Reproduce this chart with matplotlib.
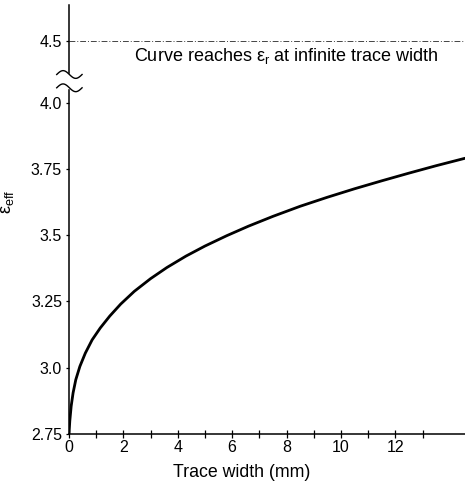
import numpy as np
import matplotlib
matplotlib.use('Agg')
import matplotlib.pyplot as plt

plt.rcParams['font.family'] = ['Liberation Sans', 'DejaVu Sans']
plt.rcParams['mathtext.fontset'] = 'custom'
plt.rcParams['mathtext.rm'] = 'Liberation Sans'
plt.rcParams['mathtext.it'] = 'Liberation Sans'

# curve
trace_width = [0.0, 0.03, 0.08, 0.15, 0.25, 0.4, 0.6, 0.85, 1.15, 1.5, 1.9,
               2.4, 3.0, 3.6, 4.3, 5.0, 5.8, 6.6, 7.5, 8.5, 9.5, 10.5, 11.5,
               12.5, 13.5, 14.56]
e_eff = [2.75, 2.80, 2.855, 2.905, 2.955, 3.005, 3.055, 3.105, 3.15, 3.195,
         3.24, 3.288, 3.336, 3.378, 3.421, 3.459, 3.498, 3.534, 3.571, 3.609,
         3.643, 3.675, 3.705, 3.734, 3.762, 3.79]
e_r = 4.5
y_ticks = [2.75, 3.0, 3.25, 3.5, 3.75, 4.0, 4.5]
y_labels = ['2.75', '3.0', '3.25', '3.5', '3.75', '4.0', '4.5']
x_ticks = [0, 2, 4, 6, 8, 10, 12]

# broken axis: squeeze everything above 4.0
k = 0.466


def fwd(y):
    y = np.asarray(y, dtype=float)
    return np.where(y <= 4.0, y, 4.0 + (y - 4.0) * k)


def inv(y):
    y = np.asarray(y, dtype=float)
    return np.where(y <= 4.0, y, 4.0 + (y - 4.0) / k)


fig = plt.figure(figsize=(4.65, 4.86), dpi=100)
ax = fig.add_axes([69 / 465, 52 / 486, 396 / 465, 429 / 486])
ax.set_yscale('function', functions=(fwd, inv))

ax.plot(trace_width, e_eff, color='black', lw=2.0, solid_joinstyle='round',
        solid_capstyle='round')
ax.axhline(e_r, color='#444444', lw=0.7, linestyle=(0, (6, 2, 1, 2)))
ax.text(2.4, 4.46, r'Curve reaches $ε_r$ at infinite trace width',
        fontsize=13, va='top', ha='left')

ax.set_xlim(0, 14.56)
ax.set_ylim(2.75, 4.79)
ax.set_xticks(x_ticks)
ax.set_xticks(np.arange(1, 14, 2), minor=True)
ax.set_yticks(y_ticks)
ax.set_yticklabels(y_labels)
ax.tick_params(axis='x', which='both', direction='inout', length=6, width=0.9,
               labelsize=11.5, pad=1)
ax.tick_params(axis='y', direction='out', length=2, width=0.9,
               labelsize=11.5, pad=3)

for s in ['top', 'right']:
    ax.spines[s].set_visible(False)
ax.spines['left'].set_linewidth(1.1)
ax.spines['bottom'].set_linewidth(1.1)

ax.set_xlabel('Trace width (mm)', fontsize=12.8)
ax.xaxis.set_label_coords(0.437, -0.07)
ax.set_ylabel(r'$ε_{eff}$', fontsize=13)
ax.yaxis.set_label_coords(-0.135, 0.54)

# break marks on the y axis
tt = np.linspace(-0.031, 0.033, 60)
ax.fill_between(tt, 0.807, 0.838, color='white', transform=ax.transAxes,
                clip_on=False, zorder=5)
for yb in [0.838, 0.807]:
    ax.plot(tt, yb + 0.009 * np.sin((tt + 0.031) / 0.064 * 2 * np.pi),
            color='black', lw=1.0, transform=ax.transAxes, clip_on=False,
            zorder=6)

fig.savefig('out.png', dpi=100)
